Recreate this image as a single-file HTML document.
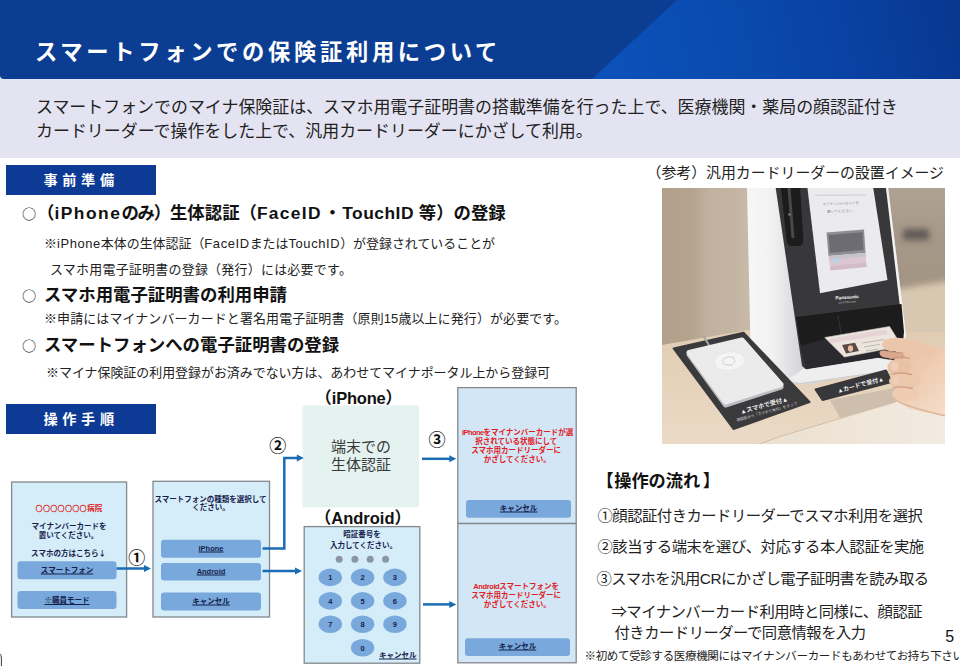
<!DOCTYPE html>
<html lang="ja">
<head>
<meta charset="utf-8">
<title>スマートフォンでの保険証利用について</title>
<style>
html,body{margin:0;padding:0;}
body{width:960px;height:666px;overflow:hidden;background:#fff;position:relative;
  font-family:"Liberation Sans","Noto Sans CJK JP",sans-serif;color:#1a1a1a;}
.abs{position:absolute;white-space:nowrap;}
#hdr{position:absolute;left:0;top:0;width:960px;height:79px;}
#title{left:35px;top:37px;font-size:22.3px;font-weight:700;color:#fff;letter-spacing:3.67px;line-height:32px;}
#band{position:absolute;left:0;top:79px;width:960px;height:78.5px;background:#e4e3f1;}
.lead{font-size:16.95px;line-height:24px;color:#222;}
.tag{position:absolute;left:5.5px;width:150px;height:30.5px;background:#0c3a94;color:#fff;font-weight:700;
  font-size:14.2px;letter-spacing:4.6px;text-align:center;line-height:30.5px;padding-left:1.2px;box-sizing:border-box;}
.b{font-size:17.4px;font-weight:700;color:#111;line-height:24px;}
.s{font-size:12.95px;color:#222;line-height:18px;}
.o{font-family:"Noto Sans CJK JP",sans-serif;font-weight:400;font-size:14.2px;position:absolute;left:2px;top:-0.5px;}
.la{letter-spacing:1.5px;}.lb{letter-spacing:1.3px;}.lc{letter-spacing:0.5px;}.ls{letter-spacing:0.6px;}
.r{font-size:15.3px;color:#222;line-height:22px;letter-spacing:-0.47px;}

#dg{position:absolute;left:0;top:0;width:960px;height:666px;}
.t{position:absolute;white-space:nowrap;transform:translate(-50%,-50%);font-weight:700;font-size:7.5px;line-height:9px;color:#15204a;text-align:center;}
.t.red{color:#e0201c;}
.j{font-family:"Noto Sans CJK JP",sans-serif;}
.t.u{text-decoration:underline;text-decoration-thickness:0.8px;text-underline-offset:1px;}
.cn{position:absolute;white-space:nowrap;transform:translate(-50%,-50%);font-weight:700;font-size:17px;line-height:20px;color:#111;font-family:"Noto Sans CJK JP",sans-serif;}
.lab{position:absolute;white-space:nowrap;font-weight:700;font-size:16.5px;line-height:22px;color:#111;}
.mint{position:absolute;white-space:nowrap;transform:translate(-50%,-50%);font-size:15px;line-height:18px;color:#3a3a3a;font-weight:400;}
</style>
</head>
<body>
<svg id="hdr" viewBox="0 0 960 79" preserveAspectRatio="none">
  <defs>
    <linearGradient id="hg" gradientUnits="userSpaceOnUse" x1="620" y1="70" x2="950" y2="-10">
      <stop offset="0" stop-color="#0b51b9"/>
      <stop offset="0.35" stop-color="#0a4aae"/>
      <stop offset="0.7" stop-color="#0941a1"/>
      <stop offset="1" stop-color="#083890"/>
    </linearGradient>
  </defs>
  <rect x="0" y="0" width="960" height="79" fill="#e4e3f1"/>
  <path d="M0 0H960V79H4Q0 79 0 75Z" fill="#0b3e92"/>
  <polygon points="677,0 960,0 960,79 592,79" fill="url(#hg)"/>
</svg>
<div id="title" class="abs">スマートフォンでの保険証利用について</div>
<div id="band"></div>
<div class="abs lead" style="left:36px;top:95.5px;">スマートフォンでのマイナ保険証は、スマホ用電子証明書の搭載準備を行った上で、医療機関・薬局の顔認証付き</div>
<div class="abs lead" style="left:36px;top:119.5px;">カードリーダーで操作をした上で、汎用カードリーダーにかざして利用。</div>

<div class="tag" style="top:164.5px;">事前準備</div>
<div class="abs b" style="left:20px;top:201px;"><span class="o">○</span><span id="b1t" class="abs" style="left:17px;top:0;">（<span class="la">iPhone</span><span style="letter-spacing:-1.2px">のみ）</span>生体認証（<span class="lb">FaceID</span><span style="margin:0 1px 0 2px">・</span><span class="lc">TouchID</span> 等）の登録</span></div>
<div class="abs s" style="left:44px;top:235px;">※<span class="ls">iPhone</span>本体の生体認証（<span class="ls">FaceID</span>または<span class="ls">TouchID</span>）が登録されていることが</div>
<div class="abs s" style="left:50px;top:261px;letter-spacing:0.27px;">スマホ用電子証明書の登録（発行）には必要です。</div>
<div class="abs b" style="left:20px;top:283px;"><span class="o">○</span><span class="abs" style="left:24px;top:0;">スマホ用電子証明書の利用申請</span></div>
<div class="abs s" style="left:44px;top:309.5px;letter-spacing:0.14px;">※申請にはマイナンバーカードと署名用電子証明書（原則15歳以上に発行）が必要です。</div>
<div class="abs b" style="left:20px;top:333px;"><span class="o">○</span><span class="abs" style="left:24px;top:0;">スマートフォンへの電子証明書の登録</span></div>
<div class="abs s" style="left:46px;top:363.5px;">※マイナ保険証の利用登録がお済みでない方は、あわせてマイナポータル上から登録可</div>

<div class="tag" style="top:403.5px;">操作手順</div>


<svg id="dg" viewBox="0 0 960 666">
  <g fill="#d4edf9" stroke="#83888d" stroke-width="1.3">
    <rect x="11.6" y="482" width="115" height="135"/>
    <rect x="153" y="481.3" width="116.5" height="135.7"/>
    <rect x="304.2" y="526.6" width="115.6" height="136.6"/>
  </g>
  <g fill="#d3e6f6" stroke="#83888d" stroke-width="1.3">
    <rect x="457.8" y="387.6" width="118.4" height="135.8"/>
    <rect x="457.8" y="523.6" width="118.4" height="139.2"/>
  </g>
  <rect x="302.5" y="405.5" width="116.5" height="101.8" fill="#e4f3f0"/>
  <g fill="#79a9dc">
    <rect x="17.5" y="561.3" width="99" height="18" rx="3"/>
    <rect x="17.5" y="591" width="99" height="18" rx="3"/>
    <rect x="161" y="539.7" width="100" height="18" rx="3"/>
    <rect x="161" y="563" width="100" height="17.6" rx="3"/>
    <rect x="161" y="592.5" width="100" height="18" rx="3"/>
    <rect x="466" y="500" width="105" height="17.8" rx="3"/>
    <rect x="465" y="638.3" width="105" height="17.8" rx="3"/>
  </g>
  <g fill="#79a9dc">
    <ellipse cx="330.3" cy="577.4" rx="11.7" ry="8.8"/><ellipse cx="362.6" cy="577.4" rx="11.7" ry="8.8"/><ellipse cx="394.9" cy="577.4" rx="11.7" ry="8.8"/>
    <ellipse cx="330.3" cy="600.9" rx="11.7" ry="8.8"/><ellipse cx="362.6" cy="600.9" rx="11.7" ry="8.8"/><ellipse cx="394.9" cy="600.9" rx="11.7" ry="8.8"/>
    <ellipse cx="330.3" cy="624.2" rx="11.7" ry="8.8"/><ellipse cx="362.6" cy="624.2" rx="11.7" ry="8.8"/><ellipse cx="394.9" cy="624.2" rx="11.7" ry="8.8"/>
    <ellipse cx="362.6" cy="647.7" rx="11.7" ry="8.8"/>
  </g>
  <g fill="#8b979f">
    <circle cx="339.2" cy="559.2" r="3.5"/><circle cx="354.9" cy="559.2" r="3.5"/><circle cx="370.2" cy="559.2" r="3.5"/><circle cx="385.6" cy="559.2" r="3.5"/>
  </g>
  <g fill="none" stroke="#1b6db3" stroke-width="2.5">
    <path d="M116.5 568.5H146"/>
    <path d="M262.5 548.6H284.3V458H299"/>
    <path d="M262.5 571H297"/>
    <path d="M422 458.8H451"/>
    <path d="M423 604.4H451"/>
  </g>
  <g fill="#1b6db3">
    <path d="M144 565L151 568.5L144 572Z"/>
    <path d="M296.8 454.5L303.8 458L296.8 461.5Z"/>
    <path d="M295 567.5L302 571L295 574.5Z"/>
    <path d="M449.3 455.3L456.3 458.8L449.3 462.3Z"/>
    <path d="M449.3 600.9L456.3 604.4L449.3 607.9Z"/>
  </g>
</svg>
<div class="t red" style="left:69px;top:508.4px;"><span class="j" style="font-weight:700;font-size:6.6px;letter-spacing:0.75px;-webkit-text-stroke:0.35px #e0201c;">○○○○○○○</span>病院</div>
<div class="t" style="left:69px;top:526.4px;">マイナンバーカードを</div>
<div class="t" style="left:68.6px;top:535px;">置いてください。</div>
<div class="t" style="left:68.5px;top:553px;">スマホの方はこちら<span class="j">↓</span></div>
<div class="t u" style="left:67px;top:570.3px;">スマートフォン</div>
<div class="t u" style="left:67px;top:600px;"><span class="j">※</span>職員モード</div>
<div class="t" style="left:210.5px;top:498.8px;">スマートフォンの種類を選択して</div>
<div class="t" style="left:210.9px;top:507.4px;">ください。</div>
<div class="t u" style="left:211px;top:548px;">iPhone</div>
<div class="t u" style="left:211px;top:571px;">Android</div>
<div class="t u" style="left:211px;top:600.8px;">キャンセル</div>
<div class="cn" style="left:136.8px;top:556.5px;">①</div>
<div class="cn" style="left:277.7px;top:444.5px;">②</div>
<div class="cn" style="left:437px;top:438.6px;">③</div>
<div class="lab" style="left:315.3px;top:387px;">（<span style="letter-spacing:-0.2px">iPhone</span>）</div>
<div class="lab" style="left:314.8px;top:507px;">（Android）</div>
<div class="mint" style="left:361px;top:447.1px;">端末での</div>
<div class="mint" style="left:361px;top:465.1px;">生体認証</div>
<div class="t" style="left:362px;top:534.2px;">暗証番号を</div>
<div class="t" style="left:363.6px;top:544.8px;">入力してください。</div>
<div class="t" style="left:330.3px;top:577.4px;">1</div><div class="t" style="left:362.6px;top:577.4px;">2</div><div class="t" style="left:394.9px;top:577.4px;">3</div>
<div class="t" style="left:330.3px;top:600.9px;">4</div><div class="t" style="left:362.6px;top:600.9px;">5</div><div class="t" style="left:394.9px;top:600.9px;">6</div>
<div class="t" style="left:330.3px;top:624.2px;">7</div><div class="t" style="left:362.6px;top:624.2px;">8</div><div class="t" style="left:394.9px;top:624.2px;">9</div>
<div class="t" style="left:362.6px;top:647.7px;">0</div>
<div class="t u" style="left:397.8px;top:655.2px;">キャンセル</div>
<div class="t red" style="left:517.7px;top:431.8px;"><span style="letter-spacing:-0.6px">iPhone</span>をマイナンバーカードが選</div>
<div class="t red" style="left:516.3px;top:440.5px;">択されている状態にして</div>
<div class="t red" style="left:516.2px;top:449.5px;">スマホ用カードリーダーに</div>
<div class="t red" style="left:517.2px;top:458.5px;">かざしてください。</div>
<div class="t u" style="left:518.6px;top:508px;">キャンセル</div>
<div class="t red" style="left:516.2px;top:586.3px;"><span style="letter-spacing:-0.4px">Android</span>スマートフォンを</div>
<div class="t red" style="left:516.2px;top:595.3px;">スマホ用カードリーダーに</div>
<div class="t red" style="left:517.2px;top:603.9px;">かざしてください。</div>
<div class="t u" style="left:517.5px;top:646.3px;">キャンセル</div>

<div class="abs" style="left:646.5px;top:162.5px;font-size:14.9px;line-height:20px;color:#222;">（参考）汎用カードリーダーの設置イメージ</div>


<svg id="photo" class="abs" style="left:662px;top:188px;" width="283" height="256" viewBox="662 188 283 256">
  <defs>
    <linearGradient id="wallL" gradientUnits="userSpaceOnUse" x1="662" y1="0" x2="748" y2="0">
      <stop offset="0" stop-color="#b3a08b"/>
      <stop offset="0.35" stop-color="#b5a38f"/>
      <stop offset="0.55" stop-color="#c1b2a0"/>
      <stop offset="0.85" stop-color="#c4b5a3"/>
      <stop offset="1" stop-color="#c8baa9"/>
    </linearGradient>
    <linearGradient id="bgR" gradientUnits="userSpaceOnUse" x1="0" y1="188" x2="0" y2="290">
      <stop offset="0" stop-color="#b0a292"/>
      <stop offset="0.5" stop-color="#a69888"/>
      <stop offset="1" stop-color="#a39483"/>
    </linearGradient>
    <linearGradient id="deskG" gradientUnits="userSpaceOnUse" x1="0" y1="335" x2="0" y2="444">
      <stop offset="0" stop-color="#e1cdb4"/>
      <stop offset="1" stop-color="#ebdac6"/>
    </linearGradient>
    <linearGradient id="bodyG" gradientUnits="userSpaceOnUse" x1="746" y1="0" x2="800" y2="0">
      <stop offset="0" stop-color="#f7f7f7"/>
      <stop offset="0.5" stop-color="#f1f1f2"/>
      <stop offset="1" stop-color="#d6d6da"/>
    </linearGradient>
    <linearGradient id="handG" gradientUnits="userSpaceOnUse" x1="880" y1="340" x2="945" y2="410">
      <stop offset="0" stop-color="#e3b999"/>
      <stop offset="0.45" stop-color="#edc9ad"/>
      <stop offset="1" stop-color="#f4dcc8"/>
    </linearGradient>
    <linearGradient id="frontG" gradientUnits="userSpaceOnUse" x1="760" y1="0" x2="945" y2="0">
      <stop offset="0" stop-color="#ebe0d0"/>
      <stop offset="1" stop-color="#f2ebe0"/>
    </linearGradient>
    <filter id="soft" x="-5%" y="-5%" width="110%" height="110%"><feGaussianBlur stdDeviation="0.7"/></filter>
    <filter id="soft2" x="-20%" y="-20%" width="140%" height="140%"><feGaussianBlur stdDeviation="3"/></filter>
    <clipPath id="pc"><rect x="662" y="188" width="283" height="256"/></clipPath>
  </defs>
  <g clip-path="url(#pc)">
  <g filter="url(#soft)">
    <!-- wall -->
    <rect x="655" y="180" width="300" height="270" fill="#b7a38e"/>
    <rect x="655" y="180" width="95" height="170" fill="url(#wallL)"/>
    <!-- right background -->
    <rect x="880" y="180" width="80" height="112" fill="url(#bgR)"/>
    <g filter="url(#soft2)">
      <polygon points="880,292 960,279 960,356 880,356" fill="#d9c8b1"/>
      <rect x="903" y="229" width="26" height="11" fill="#5f5a56"/>
    </g>
    <!-- desk -->
    <g filter="url(#soft)"><polygon points="650,347 748,330 900,332 960,332 960,452 650,452" fill="url(#deskG)"/></g>
    <!-- desk front face -->
    <polygon points="758,444.5 780,436.5 895,402 955,384 955,450 758,450" fill="url(#frontG)"/>
    <polyline points="758,444.5 780,436.5 895,402" fill="none" stroke="#cdb49d" stroke-width="0.8"/>
    <g stroke="#efe6d9" stroke-width="1" opacity="0.7"><line x1="800" y1="432" x2="800" y2="446"/><line x1="822" y1="425" x2="822" y2="446"/><line x1="846" y1="418" x2="846" y2="446"/><line x1="868" y1="411" x2="868" y2="446"/><line x1="890" y1="405" x2="890" y2="446"/><line x1="912" y1="412" x2="912" y2="446"/></g>
    <!-- plate under small mat -->
    <polygon points="830,400 895,388 896,402 840,418" fill="#cdbfac"/>
    <!-- device white body -->
    <polygon points="746.8,180 887,180 906,335 903,366 888,371 800,383.500 762,377 751,369" fill="url(#bodyG)"/>
    <path d="M751 368Q752 374 762 377L798 383.500Q802 384.500 808 383.500L890 370" fill="none" stroke="#d3d3d6" stroke-width="1.2"/>
    <polygon points="883,180 887.2,180 906,335 903.5,366 898,368" fill="#f3f3f4"/>
    <!-- dark panel -->
    <polygon points="774.5,180 885,180 901.5,320 904,345 902,362 878,358 806,369.500 802,366" fill="#39393b"/>
    <!-- camera slit -->
    <path d="M780 180L799.500 180L803.500 240Q803.500 246 797.500 246L792 246Q787 246 786.500 240Z" fill="#1d1d1f"/>
    <path d="M789 188L793 238" stroke="#48484c" stroke-width="3" fill="none"/>
    <circle cx="789.500" cy="214.500" r="1.300" fill="#7a7a80"/>
    <!-- screen -->
    <polygon points="806.5,180 872,180 887.5,280 820,293.2" fill="#ebebee"/>
    <line x1="815.5" y1="195.300" x2="866" y2="195" stroke="#b5b5ba" stroke-width="0.6"/>
    <polygon points="826.5,232.500 864,229.500 865.500,253 828.500,256" fill="#8d8d92"/>
    <polygon points="828.500,235 862.500,232.300 863.500,250 830,252.800" fill="#6c6c72"/>
    <polygon points="828.500,256 865.500,253 866.500,266.500 830.500,270" fill="#dcc6d0"/>
    <polygon points="829,256 865.500,253 865.700,256.500 829.300,259.500" fill="#c4c4ca"/>
    <polygon points="830,266 866.300,262.800 866.500,267 830.500,270.500" fill="#d3bcc6"/>
    <rect x="833" y="258.500" width="6" height="4.500" fill="#b9d3e6" transform="rotate(-4 836 260)"/>
    <!-- slot interior -->
    <polygon points="796,317 901.5,304 904,332 901,358 878,357 806,368.5 799.500,340" fill="#1a1a1c"/>
    <polygon points="800,346 842,334 900,340 878,357 806,368.5" fill="#2b2b2e"/>
    <line x1="838" y1="316" x2="842" y2="338" stroke="#3d3d40" stroke-width="0.8"/>
    <!-- base front -->
    <polygon points="803.5,368.500 806,369.500 878,358 902,362 903,366 888,371 800,383.500 786,381" fill="#eeeeef"/>
    <path d="M786 381L800 383.500L888 371L903 366" fill="none" stroke="#cfcfd3" stroke-width="1.200"/>
    <!-- big black mat -->
    <polygon points="673.6,348.5 743.500,332.7 809.5,402 733.5,429" fill="#3a3a3c" stroke="#3a3a3c" stroke-width="2" stroke-linejoin="round"/>
    <!-- cable -->
    <path d="M703.500 336L709.500 346" stroke="#a5a5a5" stroke-width="2" fill="none"/>
    <!-- reader -->
    <polygon points="689,354.500 742,342 781,387 725.500,405" fill="#bebec2" stroke="#bebec2" stroke-width="5" stroke-linejoin="round"/>
    <polygon points="689,352.500 742,340 781,384.500 725.500,402" fill="#ebebec" stroke="#ebebec" stroke-width="5" stroke-linejoin="round"/>
    <ellipse cx="729.500" cy="361.200" rx="15.500" ry="9.500" fill="#f4f4f5" stroke="#e1e1e4" stroke-width="0.7" transform="rotate(-6 729.5 361.2)"/>
    <path d="M722.500 361.500q-0.200-3.400 4.200-3.600q1.400-2 3.800-1q3.400-0.400 3.600 2.600q2 2.200-0.600 4q-2 3-5.400 1.400q-4.800 0.800-5.600-3.400z" fill="none" stroke="#cfcfd5" stroke-width="1"/>
    <!-- small mat -->
    <polygon points="815.5,389.500 886,370.500 891.5,382 822.5,400" fill="#39393b" stroke="#39393b" stroke-width="2" stroke-linejoin="round"/>
    <!-- card -->
    <polygon points="824.7,337.5 889.6,326.5 901.7,346 844.3,357" fill="#ebe5de" stroke="#d2cbc2" stroke-width="0.6"/>
    <polygon points="828,339 885,329.500 888,334 830.500,343.500" fill="#e6d3d6"/>
    <polygon points="842,345 855,342.800 859,351 846,353.500" fill="#5b4a45"/>
    <ellipse cx="850.500" cy="348.500" rx="2.600" ry="3.200" fill="#e5bda3"/>
    <path d="M862 343L884 339.500M864 347L880 344.300M866 351L878 349" stroke="#b9b2aa" stroke-width="0.9" fill="none"/>
    <!-- hand -->
    <path d="M900 342Q920 340 950 351L950 417Q925 413 911 409Q900 404 896 400L893 372L896 352Z" fill="url(#handG)"/>
    <path d="M879.500 352.500Q880 350 884 350.500L903 353Q906 357 902 359.500L884 357.500Q879.500 356.500 879.500 352.500Z" fill="#d9a88d"/>
    <path d="M882.300 343.500Q883 339.500 890 338.500Q899 336.500 912 340Q930 344 938 350L930 358Q910 352 894 351.500Q881.500 350.500 882.300 343.500Z" fill="#ebc6aa"/>
    <ellipse cx="899.500" cy="367" rx="12" ry="8.200" fill="#e9c2a6"/>
    <ellipse cx="905" cy="381" rx="16" ry="7.600" fill="#ebc7ac"/>
    <ellipse cx="905.500" cy="394" rx="13.500" ry="6.800" fill="#edccb2"/>
    <path d="M889 359.500Q897 355.500 910 358.500M890.500 374.500Q899 371.500 912 374.500M893 388Q901 385.500 913 388.500" stroke="#cf9f84" stroke-width="1.300" fill="none"/>
    <path d="M884 350.800Q893 352.500 903 353" stroke="#c99478" stroke-width="1" fill="none"/>
    <path d="M896 400Q903 406 950 417" stroke="#dcb297" stroke-width="1.500" fill="none"/>
    <ellipse cx="894.500" cy="366" rx="4" ry="4.600" fill="#f0d2bd" opacity="0.8"/>
    <ellipse cx="896" cy="380.500" rx="4" ry="4" fill="#f0d2bd" opacity="0.7"/>
  </g>
  <!-- texts -->
  <text x="835.500" y="299.600" font-size="4.700" font-weight="700" fill="#ffffff" font-family="'Liberation Sans',sans-serif" transform="rotate(-4 835.5 299.6)">Panasonic</text>
  <text x="838.500" y="303.700" font-size="2.400" fill="#cfcfcf" font-family="'Liberation Sans',sans-serif" transform="rotate(-4 838.5 303.7)">XC-STFR1J-MN</text>
  <text x="822.500" y="205.500" font-size="3.700" fill="#85858b" font-family="'Liberation Sans','Noto Sans CJK JP',sans-serif" transform="rotate(-2 822.5 205.5)">マイナンバーカードを</text>
  <text x="827" y="213" font-size="3.700" fill="#85858b" font-family="'Liberation Sans','Noto Sans CJK JP',sans-serif" transform="rotate(-2 827 213)">置いてください</text>
  <text x="0" y="0" font-size="6.200" font-weight="700" fill="#f2f2f2" font-family="'Liberation Sans','Noto Sans CJK JP',sans-serif" transform="translate(741 414) rotate(-15.500)">▲スマホで受付▲</text>
  <text x="0" y="0" font-size="3.700" fill="#d8d8d8" font-family="'Liberation Sans','Noto Sans CJK JP',sans-serif" transform="translate(737 421.500) rotate(-15.500)">顔認証から「スマホで受付」をタップ</text>
  <text x="0" y="0" font-size="6" font-weight="700" fill="#f2f2f2" font-family="'Liberation Sans','Noto Sans CJK JP',sans-serif" transform="translate(838 393) rotate(-15)">▲カードで受付▲</text>
  </g>
</svg>

<div class="abs" style="left:596.5px;top:469.5px;font-size:17.2px;font-weight:700;line-height:22px;color:#111;"><span style="letter-spacing:0.5px">【</span>操作の流れ<span style="margin-left:2.5px">】</span></div>
<div class="abs r" style="left:597.5px;top:504.5px;">①顔認証付きカードリーダーでスマホ利用を選択</div>
<div class="abs r" style="left:597.5px;top:536px;">②該当する端末を選び、対応する本人認証を実施</div>
<div class="abs r" style="left:596.5px;top:568px;">③スマホを汎用CRにかざし電子証明書を読み取る</div>
<div class="abs r" style="left:611.5px;top:600.5px;">⇒マイナンバーカード利用時と同様に、顔認証</div>
<div class="abs r" style="left:614.5px;top:622px;">付きカードリーダーで同意情報を入力</div>
<div class="abs" style="left:945.3px;top:626.6px;font-size:16px;line-height:20px;color:#111;">5</div>
<div class="abs" style="left:584.5px;top:647px;font-size:11.5px;line-height:18px;color:#222;letter-spacing:-0.33px;">※初めて受診する医療機関にはマイナンバーカードもあわせてお持ち下さい</div>
<div style="position:absolute;left:-14.5px;top:650.5px;width:14px;height:24px;border:1.6px solid #4a4a46;border-radius:7px;background:#eeefe2;"></div>
</body>
</html>
